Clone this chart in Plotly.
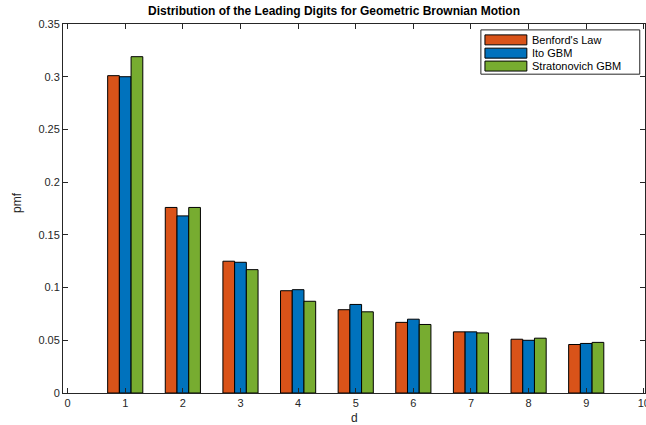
import plotly.graph_objs as go

digits = [1, 2, 3, 4, 5, 6, 7, 8, 9]
benford = [0.301, 0.176, 0.125, 0.097, 0.079, 0.067, 0.058, 0.051, 0.046]
ito_gbm = [0.300, 0.168, 0.124, 0.098, 0.084, 0.070, 0.058, 0.050, 0.047]
strat_gbm = [0.319, 0.176, 0.117, 0.087, 0.077, 0.065, 0.057, 0.052, 0.048]
series_names = ["Benford's Law", "Ito GBM", "Stratonovich GBM"]
x_ticks = [0, 1, 2, 3, 4, 5, 6, 7, 8, 9, 10]
y_ticks = [0, 0.05, 0.1, 0.15, 0.2, 0.25, 0.3, 0.35]
y_labels = ["0", "0.05", "0.1", "0.15", "0.2", "0.25", "0.3", "0.35"]

# matlab default colours
colours = ["#D95319", "#0072BD", "#77AC30"]
font_family = "Liberation Sans, Arial, sans-serif"
axis_col = "#262626"

fig = go.Figure()
for name, vals, col in zip(series_names, [benford, ito_gbm, strat_gbm], colours):
    fig.add_trace(go.Bar(x=digits, y=vals, name=name, marker_color=col,
                         marker_line=dict(color="black", width=1), showlegend=False))

axis_common = dict(showline=True, linecolor=axis_col, linewidth=1, mirror="allticks",
                   ticks="inside", ticklen=5, tickcolor=axis_col, showgrid=False,
                   zeroline=False, automargin=False, ticklabeloverflow="allow",
                   tickfont=dict(size=11, color=axis_col))

fig.update_xaxes(range=[-0.08, 10.02], tickvals=x_ticks, ticktext=[str(t) for t in x_ticks],
                 **axis_common)
fig.update_yaxes(range=[0, 0.35], tickvals=y_ticks, ticktext=y_labels, **axis_common)

# axis titles
fig.add_annotation(text="d", x=0.5, xref="paper", y=-0.068, yref="paper", yanchor="middle",
                   showarrow=False, font=dict(size=12, color=axis_col))
fig.add_annotation(text="pmf", x=-0.079, xref="paper", xanchor="center", y=0.515, yref="paper",
                   yanchor="middle", showarrow=False, textangle=-90,
                   font=dict(size=12, color=axis_col))

# legend drawn as a MATLAB style box with wide swatches
fig.add_shape(type="rect", xref="paper", yref="paper", x0=0.718, x1=0.991, y0=0.864, y1=0.984,
              line=dict(color=axis_col, width=1), fillcolor="white", layer="above")
row_y = [0.957, 0.921, 0.886]
for name, col, yc in zip(series_names, colours, row_y):
    fig.add_shape(type="rect", xref="paper", yref="paper", x0=0.725, x1=0.797,
                  y0=yc - 0.0135, y1=yc + 0.0135, line=dict(color="black", width=1),
                  fillcolor=col, layer="above")
    fig.add_annotation(text=name, x=0.802, xref="paper", xanchor="left", y=yc, yref="paper",
                       yanchor="middle", showarrow=False, font=dict(size=11, color="black"))

fig.update_layout(title=dict(text="<b>Distribution of the Leading Digits for Geometric Brownian Motion</b>",
                             x=0.517, xanchor="center", y=0.974, yanchor="middle",
                             font=dict(size=12, color="black")),
                  barmode="group", bargap=0.39, bargroupgap=0,
                  width=646, height=425,
                  margin=dict(l=63, r=1, t=24, b=32),
                  paper_bgcolor="white", plot_bgcolor="white",
                  font=dict(family=font_family))

# page body has a default 8px margin, drop it so the figure sits at the corner
fig.write_html("out.html", config={"displayModeBar": False},
               post_script="document.body.style.margin='0';")
